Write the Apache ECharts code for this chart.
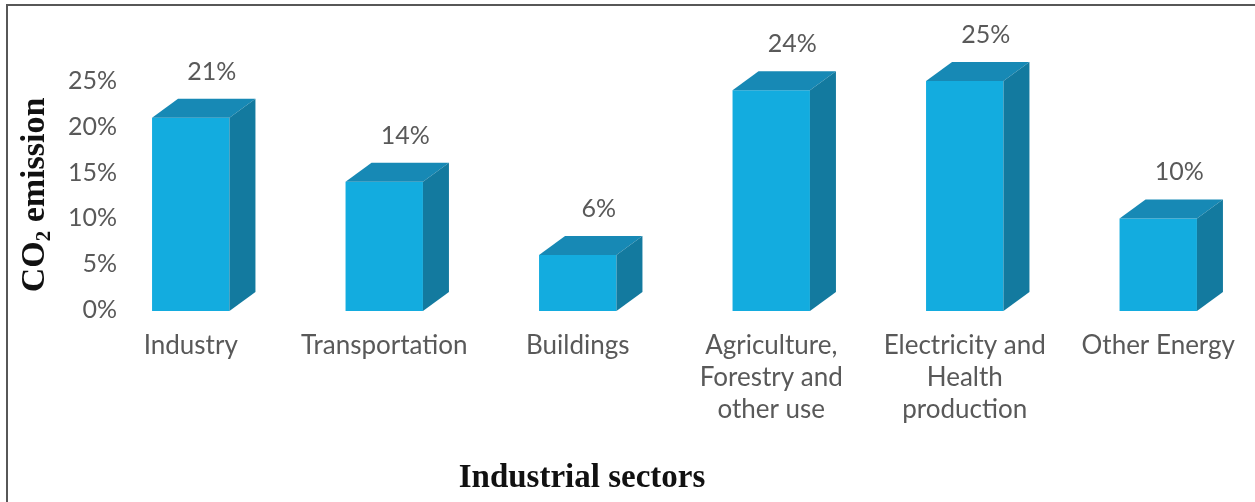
<!DOCTYPE html>
<html>
<head>
<meta charset="utf-8">
<script src="https://cdn.jsdelivr.net/npm/echarts@6/dist/echarts.min.js"></script>
<style>
  html, body { margin: 0; padding: 0; background: #ffffff; }
  #chart { width: 1255px; height: 502px; }
</style>
</head>
<body>
<div id="chart"></div>
<script>
// Sector names (line breaks as printed under each bar)
const categories = [
  'Industry',
  'Transportation',
  'Buildings',
  'Agriculture,\nForestry and\nother use',
  'Electricity and\nHealth\nproduction',
  'Other Energy'
];
// Share of CO2 emission per sector, in percent
const emissions = [21, 14, 6, 24, 25, 10];
// Value axis range and step (percent)
const yMin = 0;
const yMax = 25;
const yStep = 5;

const FRONT = '#13ACDF';
const TOP = '#1789B5';
const SIDE = '#137A9F';
const TEXT = '#595959';
const DEPTH_X = 26;
const DEPTH_Y = -19;

const chart = echarts.init(document.getElementById('chart'));

// Draws one pseudo-3D box per category: front face, top face and right side
function renderBox(params, api) {
  const idx = api.value(0);
  const val = api.value(1);
  const topPt = api.coord([idx, val]);
  const basePt = api.coord([idx, 0]);
  const band = api.size([1, 0])[0];
  const w = band * 0.4;
  const x0 = topPt[0] - w / 2;
  const x1 = topPt[0] + w / 2;
  const yT = topPt[1];
  const yB = basePt[1] + 1;
  return {
    type: 'group',
    children: [
      {
        type: 'rect',
        shape: { x: x0, y: yT, width: w, height: yB - yT },
        style: { fill: FRONT }
      },
      {
        type: 'polygon',
        shape: { points: [[x0, yT], [x0 + DEPTH_X, yT + DEPTH_Y], [x1 + DEPTH_X, yT + DEPTH_Y], [x1, yT]] },
        style: { fill: TOP }
      },
      {
        type: 'polygon',
        shape: { points: [[x1, yT], [x1 + DEPTH_X, yT + DEPTH_Y], [x1 + DEPTH_X, yB + DEPTH_Y], [x1, yB]] },
        style: { fill: SIDE }
      },
      {
        type: 'text',
        style: {
          x: topPt[0] + 21,
          y: yT + DEPTH_Y - 27,
          text: val + '%',
          align: 'center',
          verticalAlign: 'middle',
          fontFamily: 'Lato',
          fontSize: 25,
          fill: TEXT
        }
      }
    ]
  };
}

chart.setOption({
  animation: false,
  backgroundColor: '#ffffff',
  grid: { left: 94, width: 1166, top: 81, bottom: 192 },
  xAxis: {
    type: 'category',
    data: categories,
    axisLine: { show: false },
    axisTick: { show: false },
    axisLabel: {
      interval: 0,
      margin: 20,
      fontFamily: 'Lato',
      fontSize: 26,
      lineHeight: 32,
      color: TEXT,
      align: 'center'
    }
  },
  yAxis: {
    type: 'value',
    min: yMin,
    max: yMax,
    interval: yStep,
    axisLine: { show: false },
    axisTick: { show: false },
    splitLine: { show: false },
    axisLabel: {
      margin: -23,
      formatter: '{value}%',
      fontFamily: 'Lato',
      fontSize: 25,
      color: TEXT
    }
  },
  series: [{
    type: 'custom',
    clip: false,
    renderItem: renderBox,
    encode: { x: 0, y: 1 },
    data: emissions.map((v, i) => [i, v])
  }],
  graphic: [
    {
      type: 'line',
      shape: { x1: 6, y1: 5, x2: 1255, y2: 5 },
      style: { stroke: '#575757', lineWidth: 2 }
    },
    {
      type: 'line',
      shape: { x1: 7, y1: 4, x2: 7, y2: 502 },
      style: { stroke: '#575757', lineWidth: 2 }
    },
    {
      type: 'text',
      x: 35,
      y: 195,
      rotation: Math.PI / 2,
      style: {
        text: '{a|CO}{b|2}{a| emission}',
        align: 'center',
        verticalAlign: 'middle',
        rich: {
          a: { fontFamily: 'Liberation Serif', fontWeight: 'bold', fontSize: 34, lineHeight: 40, verticalAlign: 'middle', fill: '#111111' },
          b: { fontFamily: 'Liberation Serif', fontWeight: 'bold', fontSize: 21, lineHeight: 22, verticalAlign: 'bottom', fill: '#111111' }
        }
      }
    },
    {
      type: 'text',
      x: 582,
      y: 478,
      style: {
        text: 'Industrial sectors',
        align: 'center',
        verticalAlign: 'middle',
        fontFamily: 'Liberation Serif',
        fontWeight: 'bold',
        fontSize: 33,
        fill: '#111111'
      }
    }
  ]
});
</script>
</body>
</html>
